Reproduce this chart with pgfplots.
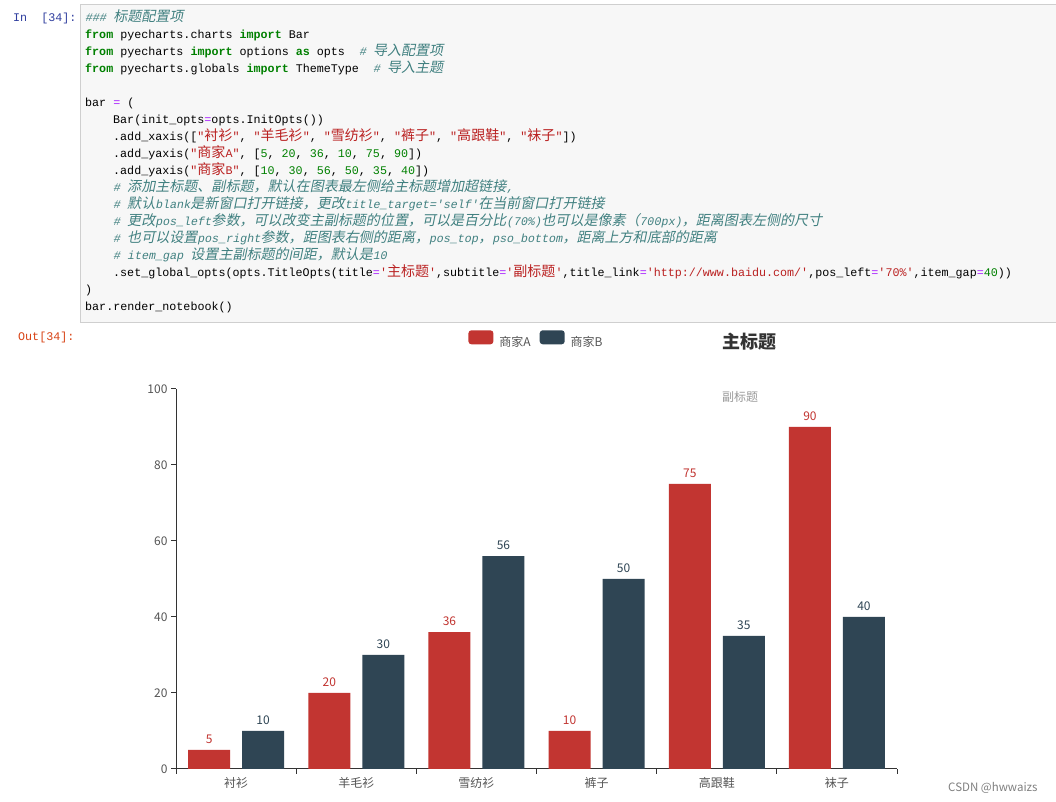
\documentclass[border=0pt]{standalone}
\usepackage{pgfplots}
\pgfplotsset{compat=1.18}
\usepackage{fontspec}
\setmainfont{Noto Sans CJK SC}
\newfontfamily\codefont{Liberation Mono}
\newfontfamily\codefontit[FakeSlant=0.2]{Liberation Mono}
\newfontfamily\codecjk[Scale=1.2]{Noto Sans CJK SC}
\newfontfamily\codecjkit[Scale=1.2,FakeSlant=0.2]{Noto Sans CJK SC}
\definecolor{codebg}{HTML}{F7F7F7}
\definecolor{codeborder}{HTML}{CFCFCF}
\definecolor{kw}{HTML}{008000}
\definecolor{str}{HTML}{BA2121}
\definecolor{num}{HTML}{008000}
\definecolor{op}{HTML}{AA22FF}
\definecolor{cmt}{HTML}{408080}
\definecolor{inprompt}{HTML}{303F9F}
\definecolor{outprompt}{HTML}{D84315}
\definecolor{barA}{HTML}{C23531}
\definecolor{barB}{HTML}{2F4554}
\definecolor{axisgray}{HTML}{333333}
\definecolor{labgray}{HTML}{555555}
\newcommand\zh[1]{{\codecjk #1}}
\newcommand\zhi[1]{{\codecjkit #1}}
\newcommand\kw[1]{{\color{kw}\bfseries #1}}
\newcommand\st[1]{{\color{str}#1}}
\newcommand\nm[1]{{\color{num}#1}}
\newcommand\eq{{\color{op}=}}
\newcommand\cm[1]{{\color{cmt}\codefontit #1}}
\begin{document}
\begin{tikzpicture}
\useasboundingbox (0pt,0pt) rectangle (1056pt,802pt);
\fill[white] (0pt,0pt) rectangle (1056pt,802pt);
% code cell
\filldraw[fill=codebg, draw=codeborder, line width=1pt] (80pt,797.5pt) rectangle (1062pt,479.5pt);
\begin{scope}[every node/.style={anchor=base west, inner sep=0pt, font={\codefont\fontsize{11.7}{14}\selectfont}}]
\node[text=inprompt] at (13pt,780pt) {In~~[34]:};
\node[text=outprompt] at (18pt,461pt) {Out[34]:};
\node at (85pt,780pt) {\cm{\#\#\# \zhi{标题配置项}}};
\node at (85pt,763pt) {\kw{from} pyecharts.charts \kw{import} Bar};
\node at (85pt,746pt) {\kw{from} pyecharts \kw{import} options \kw{as} opts~~\cm{\# \zhi{导入配置项}}};
\node at (85pt,729pt) {\kw{from} pyecharts.globals \kw{import} ThemeType~~\cm{\# \zhi{导入主题}}};
\node at (85pt,695pt) {bar \eq{} (};
\node at (113pt,678pt) {Bar(init\_opts\eq{}opts.InitOpts())};
\node at (113pt,661pt) {.add\_xaxis([\st{"\zh{衬衫}"}, \st{"\zh{羊毛衫}"}, \st{"\zh{雪纺衫}"}, \st{"\zh{裤子}"}, \st{"\zh{高跟鞋}"}, \st{"\zh{袜子}"}])};
\node at (113pt,644pt) {.add\_yaxis(\st{"\zh{商家}A"}, [\nm{5}, \nm{20}, \nm{36}, \nm{10}, \nm{75}, \nm{90}])};
\node at (113pt,627pt) {.add\_yaxis(\st{"\zh{商家}B"}, [\nm{10}, \nm{30}, \nm{56}, \nm{50}, \nm{35}, \nm{40}])};
\node at (113pt,610pt) {\cm{\# \zhi{添加主标题、副标题，默认在图表最左侧给主标题增加超链接},}};
\node at (113pt,593pt) {\cm{\# \zhi{默认}blank\zhi{是新窗口打开链接，更改}title\_target='self'\zhi{在当前窗口打开链接}}};
\node at (113pt,576pt) {\cm{\# \zhi{更改}pos\_left\zhi{参数，可以改变主副标题的位置，可以是百分比}(70\%)\zhi{也可以是像素（}700px)\zhi{，距离图表左侧的尺寸}}};
\node at (113pt,559pt) {\cm{\# \zhi{也可以设置}pos\_right\zhi{参数，距图表右侧的距离，}pos\_top\zhi{，}pso\_bottom\zhi{，距离上方和底部的距离}}};
\node at (113pt,542pt) {\cm{\# item\_gap \zhi{设置主副标题的间距，默认是}10}};
\node at (113pt,525pt) {.set\_global\_opts(opts.TitleOpts(title\eq\st{'\zh{主标题}'},subtitle\eq\st{'\zh{副标题}'},title\_link\eq\st{'http://www.baidu.com/'},pos\_left\eq\st{'70\%'},item\_gap\eq\nm{40}))};
\node at (85pt,508pt) {)};
\node at (85pt,491pt) {bar.render\_notebook()};
\end{scope}
% chart
\begin{axis}[
  at={(176pt,33pt)}, anchor=south west,
  scale only axis, width=721pt, height=380pt,
  xmin=-0.5, xmax=5.5, ymin=0, ymax=100,
  axis x line*=bottom, axis y line*=left,
  axis line style={draw=axisgray, line width=1pt},
  tick align=outside,
  xtick={0,...,5},
  xticklabels={衬衫,羊毛衫,雪纺衫,裤子,高跟鞋,袜子},
  major x tick style={draw=none},
  minor xtick={-0.5,0.5,...,5.5},
  ytick={0,20,...,100},
  major tick length=5pt, minor tick length=5pt,
  tick style={draw=axisgray, line width=1pt},
  ticklabel style={font=\fontsize{12}{14}\selectfont, text=labgray},
  /pgf/number format/assume math mode=true,
  ybar=12pt, bar width=42pt,
  nodes near coords,
  every node near coord/.append style={font=\fontsize{12}{14}\selectfont, yshift=3pt},
  legend style={at={(0.5,1.129)}, anchor=center, draw=none, fill=none,
    font=\fontsize{12}{14}\selectfont, text=labgray,
    /tikz/every even column/.append style={column sep=7pt}},
  legend columns=2,
  clip=false,
]
\addplot[fill=barA, draw=none,
  every node near coord/.append style={text=barA},
  legend image code/.code={\fill[barA, rounded corners=3pt] (0pt,-2.5pt) rectangle (25pt,11.5pt); \path (29pt,0pt);}]
  coordinates {(0,5) (1,20) (2,36) (3,10) (4,75) (5,90)};
\addlegendentry{商家A}
\addplot[fill=barB, draw=none,
  every node near coord/.append style={text=barB},
  legend image code/.code={\fill[barB, rounded corners=3pt] (0pt,-2.5pt) rectangle (25pt,11.5pt); \path (29pt,0pt);}]
  coordinates {(0,10) (1,30) (2,56) (3,50) (4,35) (5,40)};
\addlegendentry{商家B}
\end{axis}
\node[anchor=west, inner sep=0pt, font=\fontsize{18}{20}\selectfont\bfseries, text=axisgray] at (722pt,460pt) {主标题};
\node[anchor=west, inner sep=0pt, font=\fontsize{12}{14}\selectfont, text=black!40] at (722pt,405pt) {副标题};
\node[anchor=west, inner sep=0pt, font=\fontsize{11.5}{14}\selectfont, text=black!50] at (948pt,14pt) {CSDN @hwwaizs};
\end{tikzpicture}
\end{document}
